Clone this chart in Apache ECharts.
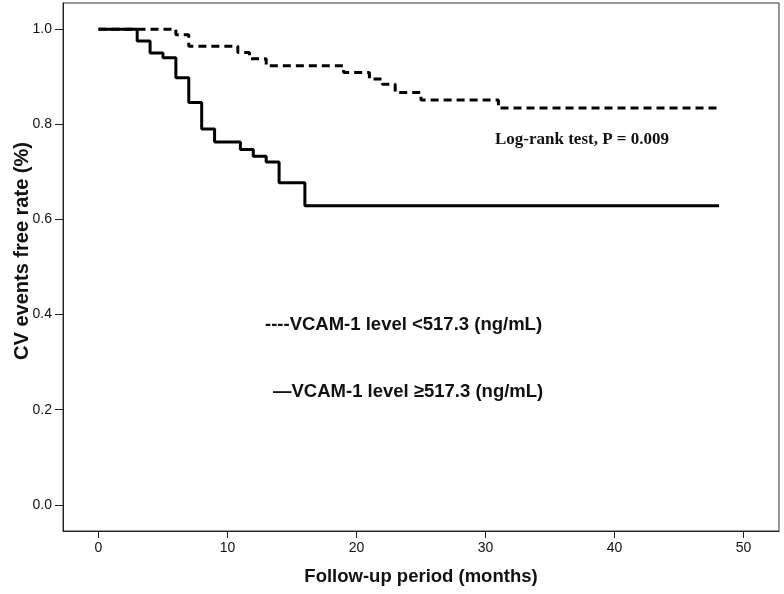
<!DOCTYPE html>
<html>
<head>
<meta charset="utf-8">
<script src="https://cdn.jsdelivr.net/npm/echarts@6/dist/echarts.min.js"></script>
<style>html,body{margin:0;padding:0;background:#fff}#c{width:784px;height:594px}</style>
</head>
<body>
<div id="c"></div>
<script>
// Kaplan-Meier estimates
const lowName = 'VCAM-1 level <517.3 (ng/mL)';
const highName = 'VCAM-1 level \u2265517.3 (ng/mL)';
const lowTimes = [0, 6, 7, 10.8, 11.7, 13, 19, 21, 22, 23, 25, 31, 48.1];
const lowSurv  = [1.0, 0.988, 0.964, 0.951, 0.938, 0.923, 0.909, 0.895, 0.884, 0.867, 0.851, 0.834, 0.834];
const highTimes = [0, 3, 4, 5, 6, 7, 8, 9, 11, 12, 13, 14, 16, 48.1];
const highSurv  = [1.0, 0.975, 0.950, 0.940, 0.898, 0.846, 0.790, 0.763, 0.747, 0.733, 0.721, 0.677, 0.629, 0.629];
const xTicks = [0, 10, 20, 30, 40, 50];
const yTicks = [0, 0.2, 0.4, 0.6, 0.8, 1.0];
const annotation = 'Log-rank test, P = 0.009';

const zip = (a, b) => a.map((v, i) => [v, b[i]]);
const chart = echarts.init(document.getElementById('c'), null, {renderer: 'canvas'});
const sans = 'Liberation Sans, Arial, sans-serif';
chart.setOption({
  animation: false,
  backgroundColor: '#fff',
  grid: {left: 63, right: 5, top: 3, bottom: 63, show: true, borderColor: '#333', borderWidth: 1,
         backgroundColor: 'transparent', containLabel: false, outerBoundsMode: 'none'},
  xAxis: {
    type: 'value', min: -2.75, max: 52.75,
    name: 'Follow-up period (months)', nameLocation: 'middle', nameGap: 36, nameMoveOverlap: false,
    nameTextStyle: {fontFamily: sans, fontWeight: 'bold', fontSize: 18.5, color: '#111'},
    axisLine: {show: true, onZero: false, lineStyle: {color: '#222', width: 1}},
    axisTick: {show: true, customValues: xTicks, length: 7, lineStyle: {color: '#222'}},
    axisLabel: {customValues: xTicks, fontFamily: sans, fontSize: 14, color: '#111', margin: 10},
    splitLine: {show: false}
  },
  yAxis: {
    type: 'value', min: -0.055, max: 1.055,
    name: 'CV events free rate (%)', nameLocation: 'middle', nameGap: 31, nameMoveOverlap: false,
    nameTextStyle: {fontFamily: sans, fontWeight: 'bold', fontSize: 20, color: '#111', padding: [0, 0, 0, 32]},
    axisLine: {show: true, onZero: false, lineStyle: {color: '#222', width: 1}},
    axisTick: {show: true, customValues: yTicks, length: 8, lineStyle: {color: '#222'}},
    axisLabel: {customValues: yTicks, fontFamily: sans, fontSize: 14, color: '#111', margin: 11,
      formatter: v => v.toFixed(1)},
    splitLine: {show: false}
  },
  legend: [
    {left: 260, top: 315, padding: 0, icon: 'none', itemWidth: 0, itemHeight: 0, data: [lowName],
     formatter: n => '----' + n,
     textStyle: {fontFamily: sans, fontWeight: 'bold', fontSize: 18.5, color: '#111'}},
    {left: 268, top: 382, padding: 0, icon: 'none', itemWidth: 0, itemHeight: 0, data: [highName],
     formatter: n => '\u2014' + n,
     textStyle: {fontFamily: sans, fontWeight: 'bold', fontSize: 18.5, color: '#111'}}
  ],
  graphic: [{
    type: 'text', left: 495, top: 131,
    style: {text: annotation, font: 'bold 17px "Liberation Serif", "Times New Roman", serif', fill: '#111'}
  }],
  series: [
    {name: lowName, type: 'line', step: 'end', symbol: 'none', data: zip(lowTimes, lowSurv),
     lineStyle: {color: '#000', width: 3, type: [8, 5]}, z: 2},
    {name: highName, type: 'line', step: 'end', symbol: 'none', data: zip(highTimes, highSurv),
     lineStyle: {color: '#000', width: 3, type: 'solid'}, z: 3}
  ]
});
</script>
</body>
</html>
